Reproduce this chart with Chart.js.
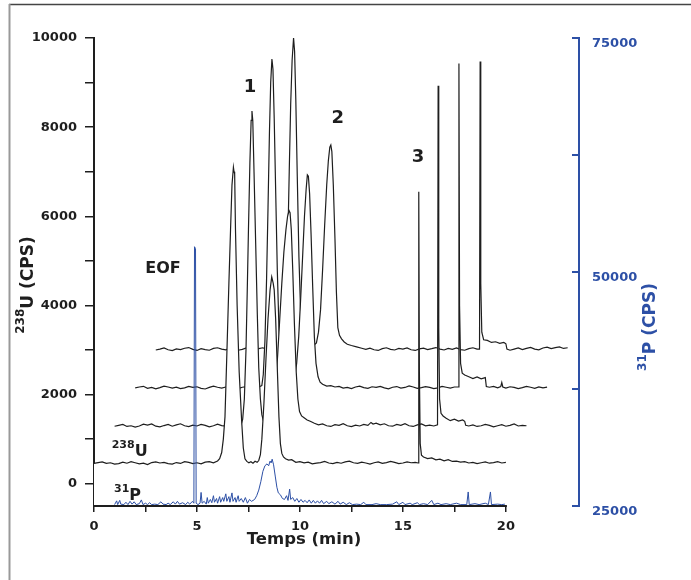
<!DOCTYPE html>
<html lang="fr">
<head>
<meta charset="UTF-8">
<title>238U / 31P - Temps (min)</title>
<script src="https://cdn.jsdelivr.net/npm/chart.js"></script>
<style>
    html, body { margin: 0; padding: 0; background: #ffffff; }
    #chart { display: block; }
</style>
</head>
<body>
<canvas id="chart" width="691" height="580"></canvas>
<script>
// axis ticks
const timeTicks = [0, 2.5, 5, 7.5, 10, 12.5, 15, 17.5, 20];
const uTicks = [0, 1000, 2000, 3000, 4000, 5000, 6000, 7000, 8000, 9000, 10000];
const pTicks = [25000, 37500, 50000, 62500, 75000];

// 238U traces, [time (min), CPS], stacked front (run 1) to back (run 4)
const u238Run1 = [[0,455],[0.2,475],[0.4,490],[0.6,455],[0.8,470],[1,440],[1.2,450],[1.4,485],[1.6,460],[1.8,495],[2,470],[2.2,445],[2.4,460],[2.6,430],[2.8,475],[3,490],[3.2,465],[3.4,480],[3.6,450],[3.8,440],[4,475],[4.2,455],[4.4,495],[4.6,480],[4.8,450],[5,470],[5.2,445],[5.4,485],[5.6,495],[5.8,470],[6,510],[6.1,560],[6.2,700],[6.28,1000],[6.36,1500],[6.45,2900],[6.55,4500],[6.63,5700],[6.7,6700],[6.77,7100],[6.8,7000],[6.83,6950],[6.87,5700],[6.95,4000],[7.05,2500],[7.17,1400],[7.25,800],[7.33,560],[7.42,500],[7.52,470],[7.62,495],[7.72,460],[7.82,505],[7.92,480],[8,520],[8.08,650],[8.15,1000],[8.25,1800],[8.35,2800],[8.45,3700],[8.55,4350],[8.63,4640],[8.7,4500],[8.75,4350],[8.82,3700],[8.9,2600],[8.98,1500],[9.05,900],[9.12,680],[9.2,600],[9.3,560],[9.45,530],[9.6,540],[9.8,480],[10,495],[10.2,470],[10.4,485],[10.6,445],[10.8,460],[11,475],[11.2,500],[11.4,465],[11.6,450],[11.8,480],[12,460],[12.2,490],[12.4,505],[12.6,470],[12.8,455],[13,485],[13.2,465],[13.4,440],[13.6,470],[13.8,490],[14,455],[14.2,475],[14.4,500],[14.6,480],[14.8,450],[15,465],[15.2,490],[15.4,470],[15.6,480],[15.74,465],[15.77,6550],[15.8,2500],[15.84,900],[15.9,640],[16,600],[16.2,565],[16.4,580],[16.6,535],[16.8,550],[17,515],[17.2,540],[17.4,500],[17.6,505],[17.8,485],[18,495],[18.2,465],[18.4,480],[18.6,450],[18.8,470],[19,490],[19.2,460],[19.4,475],[19.6,495],[19.8,465],[20,480]];
const u238Run2 = [[1,1290],[1.2,1310],[1.4,1330],[1.6,1285],[1.8,1300],[2,1270],[2.2,1295],[2.4,1335],[2.6,1315],[2.8,1340],[3,1290],[3.2,1275],[3.4,1305],[3.6,1330],[3.8,1290],[4,1320],[4.2,1345],[4.4,1300],[4.6,1280],[4.8,1315],[5,1295],[5.2,1330],[5.4,1310],[5.6,1275],[5.8,1300],[6,1335],[6.2,1305],[6.4,1290],[6.6,1325],[6.8,1300],[7,1315],[7.15,1330],[7.22,1450],[7.3,1900],[7.38,3000],[7.44,4300],[7.5,5700],[7.57,7200],[7.63,8150],[7.67,8360],[7.71,8150],[7.77,7000],[7.85,5400],[7.93,3800],[8,2600],[8.08,1900],[8.15,1550],[8.22,1420],[8.32,1380],[8.42,1400],[8.52,1380],[8.62,1450],[8.72,1700],[8.82,2200],[8.92,2900],[9.02,3700],[9.12,4500],[9.22,5200],[9.32,5700],[9.4,6000],[9.47,6130],[9.52,6080],[9.58,5700],[9.65,4800],[9.73,3600],[9.82,2500],[9.9,1900],[9.98,1620],[10.08,1520],[10.2,1480],[10.35,1430],[10.5,1400],[10.7,1355],[10.9,1320],[11.1,1340],[11.3,1300],[11.5,1285],[11.7,1325],[11.9,1310],[12.1,1345],[12.3,1300],[12.5,1280],[12.7,1315],[12.9,1295],[13.1,1330],[13.3,1310],[13.45,1375],[13.55,1340],[13.7,1360],[13.9,1320],[14.1,1345],[14.3,1300],[14.5,1290],[14.7,1330],[14.9,1310],[15.1,1345],[15.3,1300],[15.5,1285],[15.7,1320],[15.9,1340],[16.1,1300],[16.3,1315],[16.5,1295],[16.68,1320],[16.71,8930],[16.74,3500],[16.78,1900],[16.85,1580],[16.95,1520],[17.1,1470],[17.3,1415],[17.5,1450],[17.7,1405],[17.9,1430],[18,1400],[18.05,1310],[18.2,1295],[18.4,1320],[18.6,1285],[18.8,1300],[19,1330],[19.2,1310],[19.4,1275],[19.6,1300],[19.8,1325],[20,1290],[20.2,1310],[20.4,1340],[20.6,1295],[20.8,1310],[21,1300]];
const u238Run3 = [[2,2150],[2.2,2170],[2.4,2185],[2.6,2140],[2.8,2160],[3,2130],[3.2,2155],[3.4,2190],[3.6,2170],[3.8,2145],[4,2165],[4.2,2135],[4.4,2150],[4.6,2185],[4.8,2160],[5,2175],[5.2,2140],[5.4,2125],[5.6,2160],[5.8,2190],[6,2165],[6.2,2145],[6.4,2170],[6.6,2185],[6.8,2150],[7,2135],[7.2,2165],[7.4,2180],[7.6,2155],[7.8,2140],[8,2170],[8.15,2200],[8.22,2450],[8.3,3200],[8.38,4600],[8.45,6200],[8.52,7900],[8.58,9000],[8.64,9530],[8.69,9300],[8.75,8200],[8.82,6600],[8.9,4800],[8.98,3500],[9.06,2800],[9.14,2450],[9.24,2300],[9.34,2260],[9.44,2280],[9.54,2250],[9.64,2300],[9.74,2380],[9.84,2700],[9.94,3300],[10.04,4200],[10.14,5200],[10.22,6000],[10.3,6600],[10.36,6930],[10.41,6900],[10.47,6500],[10.54,5600],[10.62,4400],[10.7,3300],[10.78,2700],[10.88,2400],[10.98,2280],[11.1,2230],[11.3,2190],[11.5,2200],[11.7,2170],[11.9,2185],[12.1,2145],[12.3,2160],[12.5,2135],[12.7,2170],[12.9,2190],[13.1,2155],[13.3,2140],[13.5,2175],[13.7,2160],[13.9,2185],[14.1,2150],[14.3,2130],[14.5,2165],[14.7,2180],[14.9,2145],[15.1,2160],[15.3,2195],[15.5,2170],[15.7,2140],[15.9,2155],[16.1,2180],[16.3,2160],[16.5,2135],[16.7,2150],[16.9,2185],[17.1,2165],[17.3,2145],[17.5,2170],[17.69,2170],[17.72,9430],[17.75,4000],[17.8,2700],[17.88,2480],[18,2440],[18.2,2400],[18.4,2360],[18.6,2395],[18.8,2355],[19,2380],[19.05,2180],[19.2,2165],[19.4,2185],[19.6,2150],[19.75,2180],[19.8,2270],[19.85,2170],[20,2145],[20.2,2175],[20.4,2160],[20.6,2135],[20.8,2155],[21,2185],[21.2,2165],[21.4,2140],[21.6,2170],[21.8,2150],[22,2165]];
const u238Run4 = [[3,3000],[3.2,3020],[3.4,3045],[3.6,3005],[3.8,2985],[4,3025],[4.2,3010],[4.4,3040],[4.6,3055],[4.8,3015],[5,2990],[5.2,3030],[5.4,3010],[5.6,2995],[5.8,3035],[6,3050],[6.2,3020],[6.4,3005],[6.6,3040],[6.8,3025],[7,2995],[7.2,3015],[7.4,3045],[7.6,3020],[7.8,3000],[8,3030],[8.2,3050],[8.4,3010],[8.6,2995],[8.8,3025],[9,3040],[9.15,3030],[9.2,3080],[9.27,3350],[9.34,4200],[9.41,5400],[9.48,7000],[9.55,8500],[9.62,9500],[9.69,10000],[9.74,9700],[9.8,8600],[9.87,6900],[9.95,5100],[10.03,3900],[10.11,3350],[10.2,3150],[10.3,3100],[10.4,3080],[10.5,3110],[10.6,3090],[10.7,3120],[10.8,3160],[10.9,3400],[11,3900],[11.1,4800],[11.2,5800],[11.3,6700],[11.38,7250],[11.45,7550],[11.5,7600],[11.55,7450],[11.62,6700],[11.7,5500],[11.77,4300],[11.84,3500],[11.92,3330],[12.02,3250],[12.15,3180],[12.3,3130],[12.5,3100],[12.75,3070],[13,3040],[13.2,3015],[13.4,3040],[13.6,3005],[13.8,2990],[14,3030],[14.2,3050],[14.4,3015],[14.6,3000],[14.8,3035],[15,3020],[15.2,3045],[15.4,3005],[15.6,2990],[15.8,3025],[16,3040],[16.2,3010],[16.4,3030],[16.6,3055],[16.8,3020],[17,3000],[17.2,3035],[17.4,3015],[17.6,3045],[17.8,3010],[18,2995],[18.2,3030],[18.4,3050],[18.6,3020],[18.72,3020],[18.75,9475],[18.78,4500],[18.83,3400],[18.92,3230],[19.1,3215],[19.3,3170],[19.5,3185],[19.7,3150],[19.9,3170],[20,3140],[20.05,3020],[20.2,2995],[20.4,3020],[20.6,3045],[20.8,3010],[21,3035],[21.2,3060],[21.4,3020],[21.6,3005],[21.8,3045],[22,3065],[22.2,3030],[22.4,3055],[22.6,3070],[22.8,3035],[23,3050]];

// 31P trace, [time (min), CPS], right axis
const p31Run = [[1,25150],[1.1,25550],[1.15,25150],[1.25,25600],[1.3,25200],[1.45,25150],[1.55,25400],[1.65,25150],[1.75,25500],[1.85,25200],[1.95,25450],[2.05,25150],[2.2,25250],[2.3,25650],[2.38,25150],[2.5,25300],[2.6,25150],[2.7,25350],[2.8,25150],[2.95,25200],[3.1,25150],[3.25,25450],[3.35,25200],[3.5,25150],[3.6,25300],[3.7,25150],[3.85,25450],[3.95,25200],[4.05,25500],[4.15,25200],[4.3,25350],[4.45,25150],[4.55,25400],[4.65,25200],[4.78,25500],[4.85,25300],[4.88,52700],[4.93,52500],[4.96,25300],[5.05,25150],[5.15,25300],[5.2,26450],[5.25,25300],[5.35,25500],[5.45,25200],[5.5,25900],[5.55,25300],[5.65,25700],[5.72,25350],[5.8,26100],[5.85,25400],[5.95,25800],[6,25300],[6.1,26000],[6.15,25400],[6.25,25900],[6.3,25500],[6.4,26300],[6.45,25500],[6.55,26000],[6.6,25400],[6.7,26400],[6.75,25500],[6.85,25900],[6.9,25400],[7,26100],[7.05,25500],[7.15,25800],[7.25,25400],[7.35,25900],[7.45,25300],[7.55,25700],[7.65,25500],[7.8,25700],[7.9,26100],[8,26700],[8.1,27600],[8.2,28700],[8.3,29300],[8.4,29500],[8.48,29300],[8.55,29800],[8.6,29600],[8.65,30000],[8.72,29400],[8.8,28200],[8.88,27000],[8.95,26400],[9.05,26200],[9.15,25800],[9.25,25700],[9.35,26100],[9.42,25600],[9.5,26800],[9.55,25700],[9.65,25900],[9.75,25500],[9.85,25800],[9.95,25400],[10.05,25700],[10.15,25400],[10.25,25600],[10.35,25350],[10.45,25650],[10.55,25300],[10.65,25600],[10.75,25300],[10.85,25550],[10.95,25300],[11.05,25600],[11.15,25250],[11.3,25500],[11.4,25250],[11.55,25450],[11.7,25200],[11.85,25500],[11.95,25200],[12.1,25400],[12.25,25150],[12.4,25350],[12.55,25150],[12.75,25200],[12.95,25150],[13.1,25400],[13.2,25150],[13.5,25150],[13.7,25250],[13.9,25150],[14.2,25150],[14.5,25200],[14.7,25450],[14.8,25150],[15,25400],[15.1,25150],[15.35,25300],[15.45,25150],[15.7,25350],[15.8,25150],[16,25250],[16.2,25150],[16.4,25600],[16.5,25150],[16.7,25300],[16.85,25150],[17.1,25250],[17.3,25150],[17.6,25300],[17.8,25150],[18.1,25150],[18.17,26500],[18.22,25150],[18.5,25250],[18.7,25150],[19,25300],[19.15,25150],[19.25,26500],[19.3,25150],[19.6,25200],[19.8,25150],[19.95,25200]];

const FONT = '"DejaVu Sans", "Liberation Sans", sans-serif';
const INK = '#1e1e1e';
const BLUE = '#2d50a6';
const X_MAX = 23.55;     // the traces run past the last labelled tick
const AXIS_END = 20;     // bottom axis line stops here

// text placed in data units (min, 238U CPS)
const peakNotes = [
    { text: '1', t: 7.57, u: 8885 },
    { text: '2', t: 11.84, u: 8190 },
    { text: '3', t: 15.73, u: 7315 }
];
const eofNote = { text: 'EOF', t: 3.35, u: 4830 };
const traceNotes = [
    { sup: '238', main: 'U', t: 0.86, u: 628 },
    { sup: '31', main: 'P', t: 0.97, u: -359 }
];

const toXY = arr => arr.map(p => ({ x: p[0], y: p[1] }));

// superscript + text, left aligned on the baseline; returns the width
function supText(ctx, x, y, sup, main, supPx, mainPx, raise, draw) {
    ctx.font = `bold ${supPx}px ${FONT}`;
    const w1 = ctx.measureText(sup).width;
    if (draw) ctx.fillText(sup, x, y - raise);
    ctx.font = `bold ${mainPx}px ${FONT}`;
    const w2 = ctx.measureText(main).width;
    if (draw) ctx.fillText(main, x + w1, y);
    return w1 + w2;
}

function rotatedTitle(ctx, baseX, centerY, sup, main, color) {
    ctx.save();
    ctx.translate(baseX, centerY);
    ctx.rotate(-Math.PI / 2);
    ctx.fillStyle = color;
    ctx.textAlign = 'left';
    ctx.textBaseline = 'alphabetic';
    const w = supText(ctx, 0, 0, sup, main, 12, 17, 9, false);
    supText(ctx, -w / 2, 0, sup, main, 12, 17, 9, true);
    ctx.restore();
}

const decor = {
    id: 'decor',
    beforeDraw(chart) {
        const ctx = chart.ctx;
        ctx.save();
        ctx.fillStyle = '#ffffff';
        ctx.fillRect(0, 0, chart.width, chart.height);
        // page frame
        ctx.strokeStyle = '#444';
        ctx.lineWidth = 1.5;
        ctx.beginPath();
        ctx.moveTo(9, 4.5);
        ctx.lineTo(chart.width, 4.5);
        ctx.stroke();
        ctx.strokeStyle = '#999';
        ctx.lineWidth = 2;
        ctx.beginPath();
        ctx.moveTo(9.5, 4);
        ctx.lineTo(9.5, chart.height);
        ctx.stroke();
        ctx.restore();
    },
    afterDraw(chart) {
        const ctx = chart.ctx;
        const area = chart.chartArea;
        const sx = chart.scales.x, su = chart.scales.yU, sp = chart.scales.yP;
        ctx.save();

        // bottom axis line, 0..20 only
        ctx.strokeStyle = INK;
        ctx.lineWidth = 2;
        ctx.beginPath();
        ctx.moveTo(sx.getPixelForValue(0) - 1, area.bottom);
        ctx.lineTo(sx.getPixelForValue(AXIS_END) + 1, area.bottom);
        ctx.stroke();

        // right axis ticks point inward
        ctx.strokeStyle = BLUE;
        ctx.lineWidth = 2;
        pTicks.forEach(v => {
            const py = Math.round(sp.getPixelForValue(v));
            ctx.beginPath();
            ctx.moveTo(area.right - 7, py);
            ctx.lineTo(area.right, py);
            ctx.stroke();
        });

        // axis titles
        ctx.fillStyle = INK;
        ctx.font = `bold 16.5px ${FONT}`;
        ctx.textAlign = 'center';
        ctx.textBaseline = 'alphabetic';
        ctx.fillText('Temps (min)', sx.getPixelForValue(10) + 4, 544);
        rotatedTitle(ctx, 33, 285, '238', 'U (CPS)', INK);
        rotatedTitle(ctx, 655, 327, '31', 'P (CPS)', BLUE);

        // peak numbers and EOF
        ctx.fillStyle = INK;
        ctx.textAlign = 'center';
        ctx.textBaseline = 'middle';
        ctx.font = `bold 18px ${FONT}`;
        peakNotes.forEach(n => ctx.fillText(n.text, sx.getPixelForValue(n.t), su.getPixelForValue(n.u)));
        ctx.font = `bold 16px ${FONT}`;
        ctx.fillText(eofNote.text, sx.getPixelForValue(eofNote.t), su.getPixelForValue(eofNote.u));

        // trace names
        ctx.textAlign = 'left';
        ctx.textBaseline = 'alphabetic';
        traceNotes.forEach(n => {
            supText(ctx, sx.getPixelForValue(n.t), su.getPixelForValue(n.u), n.sup, n.main, 11, 16, 8, true);
        });
        ctx.restore();
    }
};

const tickFont = { family: FONT, size: 13, weight: 'bold' };

function uTrace(label, data) {
    return {
        label: label,
        data: toXY(data),
        yAxisID: 'yU',
        borderColor: INK,
        borderWidth: 1.2,
        pointRadius: 0,
        fill: 'start',
        backgroundColor: '#ffffff'
    };
}

new Chart(document.getElementById('chart'), {
    type: 'line',
    data: {
        datasets: [
            // first dataset is painted last, so 31P sits on top and run 1 hides runs behind it
            { label: '31P', data: toXY(p31Run), yAxisID: 'yP', borderColor: BLUE, borderWidth: 1, pointRadius: 0, fill: false },
            uTrace('238U run 1', u238Run1),
            uTrace('238U run 2', u238Run2),
            uTrace('238U run 3', u238Run3),
            uTrace('238U run 4', u238Run4)
        ]
    },
    options: {
        responsive: false,
        animation: false,
        devicePixelRatio: 1,
        layout: { padding: { top: 38, left: 0, right: 0, bottom: 0 } },
        elements: { line: { tension: 0 } },
        plugins: { legend: { display: false }, tooltip: { enabled: false } },
        scales: {
            x: {
                type: 'linear',
                min: 0,
                max: X_MAX,
                z: 1,
                afterBuildTicks: s => { s.ticks = timeTicks.map(v => ({ value: v })); },
                afterFit: s => { s.height = 74; },
                border: { display: false },
                grid: { drawOnChartArea: false, drawTicks: true, tickLength: 6, color: INK, lineWidth: 1.5 },
                ticks: {
                    autoSkip: false,
                    maxRotation: 0,
                    padding: 7,
                    color: INK,
                    font: tickFont,
                    callback: v => (v % 5 === 0 ? String(v) : '')
                }
            },
            yU: {
                type: 'linear',
                position: 'left',
                min: -500,
                max: 10000,
                z: 1,
                afterBuildTicks: s => { s.ticks = uTicks.map(v => ({ value: v })); },
                afterFit: s => { s.width = 94; },
                border: { display: true, color: INK, width: 2 },
                grid: { drawOnChartArea: false, drawTicks: true, tickLength: 9, color: INK, lineWidth: 1.5 },
                ticks: {
                    autoSkip: false,
                    padding: 8,
                    color: INK,
                    font: tickFont,
                    callback: v => (v % 2000 === 0 ? String(v) : '')
                }
            },
            yP: {
                type: 'linear',
                position: 'right',
                min: 25000,
                max: 75000,
                z: 1,
                afterBuildTicks: s => { s.ticks = pTicks.map(v => ({ value: v })); },
                afterFit: s => { s.width = 112; },
                border: { display: true, color: BLUE, width: 2 },
                grid: { display: false, drawTicks: false },
                ticks: {
                    autoSkip: false,
                    padding: 13,
                    labelOffset: 5.5,
                    color: BLUE,
                    font: tickFont,
                    callback: v => (v % 25000 === 0 ? String(v) : '')
                }
            }
        }
    },
    plugins: [decor]
});
</script>
</body>
</html>
